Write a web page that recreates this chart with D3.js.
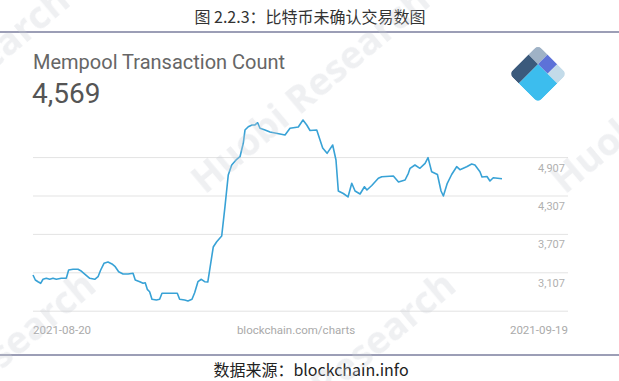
<!DOCTYPE html>
<html>
<head>
<meta charset="utf-8">
<script src="https://cdn.jsdelivr.net/npm/d3@7"></script>
<style>
  html, body { margin: 0; padding: 0; background: #fff; }
  svg { display: block; }
</style>
</head>
<body>
<div id="chart"></div>
<script>
// data: days since 2021-08-20 and mempool tx count
const dayOffsets = [0, 0.15, 0.32, 0.49, 0.64, 0.85, 1.07, 1.28, 1.49, 1.81, 2.13, 2.28, 2.56, 2.88, 3.05, 3.31, 3.63, 3.95, 4.16, 4.33,
  4.54, 4.80, 5.05, 5.26, 5.48, 5.76, 6.08, 6.40, 6.54, 6.83, 7.04, 7.18, 7.31, 7.46, 7.61, 7.89, 8.10, 8.25, 8.64, 9.06,
  9.23, 9.38, 9.70, 9.91, 10.17, 10.34, 10.55, 10.77, 10.98, 11.18, 11.32, 11.53, 11.75, 12.07, 12.28, 12.49, 12.71, 13.03, 13.24, 13.45,
  13.56, 13.77, 14.01, 14.20, 14.37, 14.52, 14.84, 15.16, 15.80, 16.12, 16.44, 16.97, 17.27, 17.51, 17.72, 18.15, 18.36, 18.53, 18.81, 19.17,
  19.38, 19.53, 19.85, 20.15, 20.39, 20.60, 20.92, 21.20, 21.36, 21.67, 22.09, 22.31, 23.05, 23.38, 23.80, 24.01, 24.12, 24.43, 24.75, 25.08,
  25.27, 25.50, 25.87, 26.10, 26.25, 26.50, 26.78, 27.10, 27.31, 27.74, 28.06, 28.27, 28.59, 28.72, 29.04, 29.23, 29.44, 30];
const txCount = [3065, 2987, 2960, 2935, 2998, 3013, 2998, 3013, 2998, 3013, 3013, 3143, 3154, 3154, 3132, 3080, 3013, 2998, 3038, 3143,
  3248, 3268, 3237, 3194, 3116, 3080, 3080, 3091, 2987, 2960, 2935, 2944, 2841, 2804, 2685, 2674, 2685, 2779, 2779, 2779,
  2779, 2685, 2674, 2659, 2685, 2788, 2960, 2998, 2960, 2955, 3174, 3502, 3585, 3674, 4132, 4627, 4784, 4873, 4913, 5123,
  5330, 5382, 5409, 5409, 5444, 5357, 5330, 5299, 5268, 5252, 5357, 5377, 5487, 5409, 5323, 5330, 5174, 5049, 4966, 5096,
  4862, 4377, 4338, 4284, 4498, 4377, 4330, 4444, 4393, 4463, 4576, 4601, 4612, 4518, 4549, 4654, 4732, 4784, 4732, 4810,
  4898, 4679, 4635, 4377, 4299, 4498, 4635, 4757, 4710, 4757, 4799, 4784, 4679, 4596, 4604, 4534, 4585, 4569];
const yTicks = [2507, 3107, 3707, 4307, 4907];
const xLabels = ["2021-08-20", "blockchain.com/charts", "2021-09-19"];
const chartTitle = "图 2.2.3：比特币未确认交易数图";
const cardTitle = "Mempool Transaction Count";
const sourceText = "数据来源：blockchain.info";

const W = 619, H = 381;
const left = 33, right = 568, plotRight = 502;

const svg = d3.select("#chart").append("svg")
  .attr("width", W).attr("height", H)
  .style("font-family", "Roboto, 'Noto Sans', sans-serif");

const x = d3.scaleLinear().domain([0, 30]).range([left, plotRight]);
const y = d3.scaleLinear().domain([2507, 4907]).range([310.7, 157.1]);

// title + rules
svg.append("text")
  .attr("x", 310).attr("y", 23)
  .attr("text-anchor", "middle")
  .style("font-family", "'Noto Sans CJK SC', sans-serif")
  .style("font-size", "16px").attr("fill", "#333")
  .text(chartTitle);
svg.append("line").attr("x1", 0).attr("x2", W).attr("y1", 32).attr("y2", 32)
  .attr("stroke", "#3a3f6e").attr("stroke-width", 1.2);

svg.append("text")
  .attr("x", left).attr("y", 69)
  .style("font-size", "20px").attr("fill", "#666")
  .text(cardTitle);
svg.append("text")
  .attr("x", left - 1).attr("y", 103)
  .style("font-size", "28px").attr("fill", "#555")
  .text(d3.format(",")(txCount[txCount.length - 1]));

// logo (rotated square of 3x3 units)
const u = 13.6;
const logo = svg.append("g").attr("transform", "translate(538,45) rotate(45)");
logo.append("clipPath").attr("id", "logoClip")
  .append("rect").attr("width", 3 * u).attr("height", 3 * u).attr("rx", 5);
const lg = logo.append("g").attr("clip-path", "url(#logoClip)");
[
  [0, 0, 1, 1, "#9fb2c6"],
  [1, 0, 1, 1, "#5d72d8"],
  [2, 0, 1, 1, "#c3dbe9"],
  [0, 1, 1, 2, "#3b5a7c"],
  [1, 1, 2, 2, "#3cbdee"]
].forEach(p => {
  lg.append("rect").attr("x", p[0] * u).attr("y", p[1] * u)
    .attr("width", p[2] * u).attr("height", p[3] * u).attr("fill", p[4]);
});

// grid + y labels
const yAxis = d3.axisLeft(y)
  .tickValues(yTicks)
  .tickSize(-(right - left))
  .tickFormat(d3.format(","));
const ga = svg.append("g").attr("transform", `translate(${left},0)`).call(yAxis);
ga.select(".domain").remove();
ga.selectAll("line").attr("stroke", "#e3e3e3");
ga.selectAll("text")
  .attr("x", right - left - 3).attr("dy", 14)
  .attr("text-anchor", "end")
  .attr("fill", "#b0b0b0")
  .style("font-size", "11px")
  .style("font-family", "Roboto, sans-serif")
  .attr("opacity", d => d === yTicks[0] ? 0 : 1);

// line
const line = d3.line()
  .x((d, i) => x(dayOffsets[i]))
  .y(d => y(d));
svg.append("path")
  .datum(txCount)
  .attr("d", line)
  .attr("fill", "none")
  .attr("stroke", "#38a2d6")
  .attr("stroke-width", 1.6)
  .attr("stroke-linejoin", "round");

// footer labels
const xl = svg.append("g").style("font-size", "11.5px").attr("fill", "#aaa");
xl.append("text").attr("x", left).attr("y", 334).text(xLabels[0]);
xl.append("text").attr("x", 296).attr("y", 334).attr("text-anchor", "middle").text(xLabels[1]);
xl.append("text").attr("x", right).attr("y", 334).attr("text-anchor", "end").text(xLabels[2]);

svg.append("line").attr("x1", 0).attr("x2", W).attr("y1", 355).attr("y2", 355)
  .attr("stroke", "#3a3f6e").attr("stroke-width", 1.2);
svg.append("text")
  .attr("x", 311).attr("y", 376)
  .attr("text-anchor", "middle")
  .style("font-family", "'Noto Sans CJK SC', sans-serif")
  .style("font-size", "16px").attr("fill", "#222")
  .text(sourceText);

// watermark
const wm = svg.append("g").attr("fill", "#c8ccd4").attr("opacity", 0.3)
  .style("font-size", "38px").style("font-weight", "bold")
  .style("font-family", "'Open Sans', sans-serif");
[[205, 195], [565, 195], [-155, 195], [231, 480], [-129, 480]].forEach(p => {
  wm.append("text").attr("transform", `translate(${p[0]},${p[1]}) rotate(-40)`)
    .text("Huobi Research");
});
</script>
</body>
</html>
